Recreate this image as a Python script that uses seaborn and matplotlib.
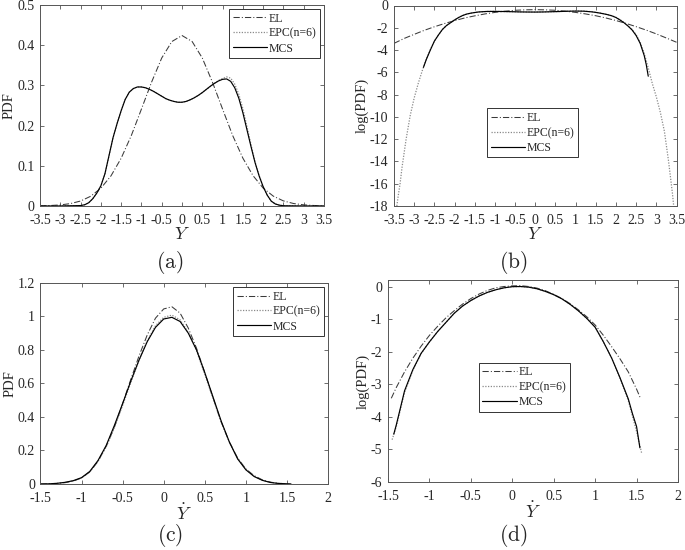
import matplotlib
matplotlib.use("Agg")
import matplotlib.pyplot as plt
import seaborn as sns
import pandas as pd
import numpy as np

# ---------------- datos panel (a): PDF de Y ----------------
a_x_el = [-3.5, -3.25, -3, -2.75, -2.5, -2.25, -2, -1.75, -1.5, -1.25, -1, -0.75, -0.5, -0.25, 0,
          0.25, 0.5, 0.75, 1, 1.25, 1.5, 1.75, 2, 2.25, 2.5, 2.75, 3, 3.25, 3.5]
a_el = [0.0004, 0.0011, 0.0026, 0.0059, 0.0123, 0.0242, 0.0441, 0.075, 0.1187, 0.175, 0.241, 0.308,
        0.368, 0.409, 0.424, 0.409, 0.368, 0.308, 0.241, 0.175, 0.119, 0.0755, 0.0445, 0.0245, 0.0126,
        0.0061, 0.0028, 0.0012, 0.0005]
a_x = [-3.5, -3, -2.5, -2.4, -2.3, -2.2, -2.1, -2.0, -1.9, -1.8, -1.7, -1.6, -1.5, -1.4, -1.3, -1.2,
       -1.1, -1.0, -0.9, -0.8, -0.7, -0.6, -0.5, -0.4, -0.3, -0.2, -0.1, 0, 0.1, 0.2, 0.3, 0.4, 0.5,
       0.6, 0.7, 0.8, 0.9, 1.0, 1.1, 1.2, 1.3, 1.4, 1.5, 1.6, 1.7, 1.8, 1.9, 2.0, 2.1, 2.2, 2.3, 2.4,
       2.5, 3, 3.5]
a_mcs = [0, 0, 0.001, 0.003, 0.008, 0.018, 0.032, 0.05, 0.08, 0.125, 0.17, 0.205, 0.237, 0.265, 0.283,
         0.292, 0.296, 0.296, 0.294, 0.29, 0.285, 0.279, 0.273, 0.267, 0.263, 0.26, 0.258, 0.258, 0.26,
         0.264, 0.269, 0.275, 0.282, 0.29, 0.298, 0.305, 0.311, 0.315, 0.316, 0.31, 0.294, 0.268, 0.232,
         0.19, 0.148, 0.108, 0.075, 0.048, 0.027, 0.012, 0.005, 0.002, 0.0005, 0, 0]
a_epc = [0, 0, 0.001, 0.003, 0.008, 0.018, 0.032, 0.05, 0.08, 0.124, 0.169, 0.205, 0.237, 0.265, 0.283,
         0.292, 0.296, 0.296, 0.294, 0.29, 0.285, 0.279, 0.273, 0.267, 0.263, 0.26, 0.258, 0.258, 0.26,
         0.264, 0.269, 0.275, 0.282, 0.29, 0.297, 0.305, 0.312, 0.317, 0.321, 0.318, 0.303, 0.278, 0.242,
         0.198, 0.153, 0.11, 0.076, 0.048, 0.027, 0.012, 0.005, 0.002, 0.0005, 0, 0]

# ---------------- datos panel (b): log(PDF) de Y ----------------
b_el = [-3.40, -2.96, -2.59, -2.23, -1.91, -1.62, -1.36, -1.12, -0.93, -0.76, -0.62, -0.51, -0.43,
        -0.39, -0.37, -0.39, -0.43, -0.51, -0.62, -0.76, -0.92, -1.12, -1.35, -1.61, -1.90, -2.21,
        -2.55, -2.92, -3.30]
b_x_mcs = [-2.77, -2.7, -2.6, -2.5, -2.4, -2.3, -2.2, -2.1, -2.0, -1.9, -1.8, -1.7, -1.6, -1.5, -1.4,
           -1.2, -1.0, -0.8, -0.6, -0.4, -0.2, 0, 0.2, 0.4, 0.6, 0.8, 1.0, 1.2, 1.4, 1.5, 1.6, 1.7,
           1.8, 1.9, 2.0, 2.1, 2.2, 2.3, 2.4, 2.5, 2.6, 2.7, 2.75, 2.8]
b_mcs = [-5.55, -4.85, -4.0, -3.2, -2.65, -2.15, -1.8, -1.55, -1.3, -1.08, -0.9, -0.77, -0.69, -0.63,
         -0.58, -0.535, -0.53, -0.54, -0.555, -0.575, -0.585, -0.59, -0.58, -0.56, -0.54, -0.515,
         -0.5, -0.51, -0.57, -0.62, -0.68, -0.75, -0.83, -0.93, -1.08, -1.3, -1.55, -1.85, -2.2,
         -2.7, -3.4, -4.5, -5.3, -6.35]
b_x_epc = [-3.43, -3.4, -3.35, -3.3, -3.2, -3.1, -3.0, -2.9, -2.8, -2.7, -2.6, -2.5, -2.4, -2.3, -2.2,
           -2.1, -2.0, -1.9, -1.8, -1.7, -1.6, -1.5, -1.4, -1.2, -1.0, -0.8, -0.6, -0.4, -0.2, 0, 0.2,
           0.4, 0.6, 0.8, 1.0, 1.2, 1.4, 1.5, 1.6, 1.7, 1.8, 1.9, 2.0, 2.1, 2.2, 2.3, 2.4, 2.5, 2.6,
           2.7, 2.8, 2.9, 3.0, 3.1, 3.2, 3.3, 3.4, 3.43]
b_epc = [-18.0, -17.2, -16.0, -14.5, -12.0, -9.9, -8.3, -7.0, -5.85, -4.8, -3.95, -3.2, -2.65, -2.15,
         -1.8, -1.55, -1.3, -1.08, -0.9, -0.77, -0.69, -0.63, -0.58, -0.535, -0.53, -0.54, -0.555,
         -0.575, -0.585, -0.59, -0.58, -0.56, -0.54, -0.51, -0.495, -0.5, -0.56, -0.61, -0.67, -0.74,
         -0.82, -0.92, -1.06, -1.27, -1.52, -1.82, -2.15, -2.62, -3.3, -4.3, -5.6, -7.0, -8.2, -9.6,
         -11.3, -13.9, -16.9, -18.0]

# ---------------- datos panel (c): PDF de Y punto ----------------
c_x = [-1.5, -1.4, -1.3, -1.2, -1.1, -1.0, -0.9, -0.8, -0.7, -0.6, -0.5, -0.4, -0.3, -0.2, -0.1, 0,
       0.1, 0.2, 0.3, 0.4, 0.5, 0.6, 0.7, 0.8, 0.9, 1.0, 1.1, 1.2, 1.3, 1.4, 1.5, 1.55]
c_mcs = [0.0, 0.001, 0.004, 0.01, 0.02, 0.038, 0.075, 0.14, 0.23, 0.35, 0.48, 0.615, 0.74, 0.85,
         0.935, 0.985, 0.995, 0.97, 0.9, 0.8, 0.665, 0.52, 0.375, 0.25, 0.15, 0.085, 0.045, 0.022,
         0.009, 0.003, 0.001, 0.0]
c_el = [0.0, 0.001, 0.003, 0.008, 0.018, 0.036, 0.072, 0.135, 0.225, 0.34, 0.48, 0.625, 0.765, 0.89,
        0.99, 1.045, 1.058, 1.02, 0.93, 0.81, 0.665, 0.515, 0.37, 0.25, 0.155, 0.09, 0.05, 0.025,
        0.011, 0.004, 0.0015, 0.001]
c_epc = [0.0, 0.001, 0.003, 0.009, 0.019, 0.037, 0.072, 0.135, 0.222, 0.335, 0.47, 0.605, 0.74, 0.855,
         0.945, 0.995, 1.008, 0.98, 0.905, 0.795, 0.655, 0.51, 0.37, 0.25, 0.152, 0.087, 0.047, 0.023,
         0.01, 0.004, 0.001, 0.0]

# ---------------- datos panel (d): log(PDF) de Y punto ----------------
d_x_mcs = [-1.43, -1.4, -1.3, -1.2, -1.1, -1.0, -0.9, -0.8, -0.7, -0.6, -0.5, -0.4, -0.3, -0.2, -0.1,
           0, 0.1, 0.2, 0.3, 0.4, 0.5, 0.6, 0.7, 0.8, 0.9, 1.0, 1.1, 1.2, 1.3, 1.4, 1.45, 1.5, 1.54]
d_mcs = [-4.53, -4.25, -3.2, -2.55, -2.05, -1.7, -1.38, -1.1, -0.82, -0.6, -0.43, -0.29, -0.18, -0.1,
         -0.04, -0.005, 0.0, -0.02, -0.07, -0.15, -0.25, -0.38, -0.55, -0.75, -0.98, -1.25, -1.7,
         -2.2, -2.8, -3.45, -3.9, -4.3, -4.95]
d_x_el = [-1.46, -1.4, -1.3, -1.2, -1.1, -1.0, -0.9, -0.8, -0.7, -0.6, -0.5, -0.4, -0.3, -0.2, -0.1,
          0, 0.1, 0.2, 0.3, 0.4, 0.5, 0.6, 0.7, 0.8, 0.9, 1.0, 1.1, 1.2, 1.3, 1.4, 1.5, 1.55]
d_el = [-3.43, -3.1, -2.62, -2.2, -1.83, -1.5, -1.22, -0.96, -0.74, -0.54, -0.37, -0.23, -0.12, -0.04,
        0.0, 0.02, 0.025, 0.0, -0.05, -0.13, -0.24, -0.37, -0.53, -0.72, -0.93, -1.18, -1.5, -1.85,
        -2.22, -2.62, -3.15, -3.45]
d_x_epc = [-1.45, -1.4, -1.3, -1.2, -1.1, -1.0, -0.9, -0.8, -0.7, -0.6, -0.5, -0.4, -0.3, -0.2, -0.1,
           0, 0.1, 0.2, 0.3, 0.4, 0.5, 0.6, 0.7, 0.8, 0.9, 1.0, 1.1, 1.2, 1.3, 1.4, 1.45, 1.5, 1.56]
d_epc = [-4.7, -4.3, -3.25, -2.57, -2.06, -1.7, -1.38, -1.1, -0.82, -0.6, -0.43, -0.29, -0.18, -0.1,
         -0.04, -0.005, 0.0, -0.02, -0.07, -0.15, -0.25, -0.38, -0.55, -0.75, -0.98, -1.25, -1.7,
         -2.2, -2.82, -3.5, -3.98, -4.45, -5.1]

# ---------------- ticks ----------------
ticks_y = [-3.5, -3, -2.5, -2, -1.5, -1, -0.5, 0, 0.5, 1, 1.5, 2, 2.5, 3, 3.5]
ticks_y_lab = ['-3.5', '-3', '-2.5', '-2', '-1.5', '-1', '-0.5', '0', '0.5', '1', '1.5', '2', '2.5', '3', '3.5']
ticks_yd = [-1.5, -1, -0.5, 0, 0.5, 1, 1.5, 2]
ticks_yd_lab = ['-1.5', '-1', '-0.5', '0', '0.5', '1', '1.5', '2']
ticks_pdf_a = [0, 0.1, 0.2, 0.3, 0.4, 0.5]
ticks_pdf_a_lab = ['0', '0.1', '0.2', '0.3', '0.4', '0.5']
ticks_log_b = [0, -2, -4, -6, -8, -10, -12, -14, -16, -18]
ticks_log_b_lab = ['0', '-2', '-4', '-6', '-8', '-10', '-12', '-14', '-16', '-18']
ticks_pdf_c = [0, 0.2, 0.4, 0.6, 0.8, 1, 1.2]
ticks_pdf_c_lab = ['0', '0.2', '0.4', '0.6', '0.8', '1', '1.2']
ticks_log_d = [0, -1, -2, -3, -4, -5, -6]
ticks_log_d_lab = ['0', '-1', '-2', '-3', '-4', '-5', '-6']

sns.set_theme(style="ticks")
plt.rcParams['font.family'] = ['Liberation Serif', 'DejaVu Serif']
plt.rcParams['mathtext.fontset'] = 'cm'
plt.rcParams['xtick.direction'] = 'in'
plt.rcParams['ytick.direction'] = 'in'
plt.rcParams['xtick.top'] = True
plt.rcParams['ytick.right'] = True

estilos = {'EL': dict(color='#3a3a3a', linestyle=(0, (6, 2, 1, 2)), linewidth=0.75),
           'EPC(n=6)': dict(color='#8a8a8a', linestyle=(0, (1, 1.2)), linewidth=0.9),
           'MCS': dict(color='black', linestyle='-', linewidth=0.85)}


def panel(ax, series, xlim, ylim, xt, xtl, yt, ytl, xlab, ylab, leg_kw):
    for nombre, xs, ys in series:
        df = pd.DataFrame({'x': xs, 'y': ys})
        sns.lineplot(data=df, x='x', y='y', ax=ax, estimator=None, sort=False,
                     label=nombre, **estilos[nombre])
    ax.set_xlim(xlim)
    ax.set_ylim(ylim)
    ax.set_xticks(xt)
    ax.set_xticklabels(xtl)
    ax.set_yticks(yt)
    ax.set_yticklabels(ytl)
    ax.tick_params(labelsize=10, length=3, width=0.6, color='#555555')
    ax.tick_params(axis='x', pad=6)
    ax.tick_params(axis='y', pad=4)
    for s in ax.spines.values():
        s.set_linewidth(0.7)
        s.set_color('#555555')
    ax.set_xlabel(xlab, fontsize=13, labelpad=-1)
    ax.set_ylabel(ylab, fontsize=10.5, labelpad=1)
    leg = ax.legend(fontsize=8.5, fancybox=False, framealpha=1, edgecolor='#333333',
                    handlelength=2.9, handletextpad=0.15, labelspacing=0.25,
                    borderpad=0.3, **leg_kw)
    leg.get_frame().set_linewidth(0.7)


fig = plt.figure(figsize=(6.85, 5.5), dpi=100)
ax_a = fig.add_axes([0.0584, 0.6255, 0.4146, 0.3655])
ax_b = fig.add_axes([0.5752, 0.6255, 0.4124, 0.3645])
ax_c = fig.add_axes([0.0591, 0.12, 0.4197, 0.3655])
ax_d = fig.add_axes([0.5664, 0.1236, 0.4234, 0.3673])

panel(ax_a, [('EL', a_x_el, a_el), ('EPC(n=6)', a_x, a_epc), ('MCS', a_x, a_mcs)],
      (-3.5, 3.5), (0, 0.5), ticks_y, ticks_y_lab, ticks_pdf_a, ticks_pdf_a_lab,
      '$Y$', 'PDF', dict(loc='upper right', borderaxespad=0.35))
panel(ax_b, [('EL', a_x_el, b_el), ('EPC(n=6)', b_x_epc, b_epc), ('MCS', b_x_mcs, b_mcs)],
      (-3.5, 3.5), (-18, 0), ticks_y, ticks_y_lab, ticks_log_b, ticks_log_b_lab,
      '$Y$', 'log(PDF)', dict(loc='center', bbox_to_anchor=(0.49, 0.365)))
panel(ax_c, [('EL', c_x, c_el), ('EPC(n=6)', c_x, c_epc), ('MCS', c_x, c_mcs)],
      (-1.5, 2), (0, 1.2), ticks_yd, ticks_yd_lab, ticks_pdf_c, ticks_pdf_c_lab,
      r'$\dot{Y}$', 'PDF', dict(loc='upper right', borderaxespad=0.35))
panel(ax_d, [('EL', d_x_el, d_el), ('EPC(n=6)', d_x_epc, d_epc), ('MCS', d_x_mcs, d_mcs)],
      (-1.5, 2), (-6, 0.2), ticks_yd, ticks_yd_lab, ticks_log_d, ticks_log_d_lab,
      r'$\dot{Y}$', 'log(PDF)', dict(loc='center', bbox_to_anchor=(0.47, 0.47)))

# etiquetas de los subgraficos
for txt, px, py in [('(a)', 0.248, 0.523), ('(b)', 0.749, 0.523),
                    ('(c)', 0.248, 0.027), ('(d)', 0.749, 0.027)]:
    fig.text(px, py, r'$\mathrm{' + txt + '}$', fontsize=15.5, ha='center', va='center')

fig.savefig('out.png', dpi=100)
